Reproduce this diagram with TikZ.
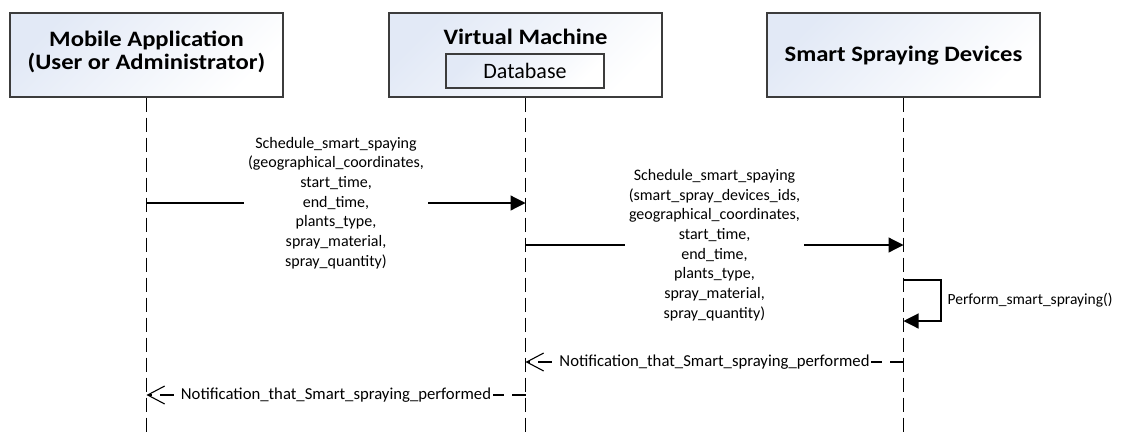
\documentclass[tikz,border=0pt]{standalone}
\usepackage{fontspec}
\setmainfont{Carlito}
\newfontfamily\hdrfont[FakeStretch=1.12]{Carlito}
\usetikzlibrary{arrows.meta}

\definecolor{boxedge}{HTML}{3C3C3C}
\definecolor{boxtint}{HTML}{E2E9F6}

\tikzset{
  actor/.style={draw=boxedge, line width=1.3pt, top color=boxtint, bottom color=white,
    shading angle=45, minimum width=273pt, minimum height=84pt, inner sep=0pt},
  hdr/.style={align=center, inner sep=0pt, font=\hdrfont\bfseries\fontsize{22}{22.5}\selectfont},
  dbbox/.style={draw=boxedge, line width=1.1pt, top color=boxtint, bottom color=white,
    shading angle=45, minimum width=158pt, minimum height=34pt, inner sep=0pt,
    font=\fontsize{22}{24}\selectfont},
  lifeline/.style={draw=black, line width=1.2pt, dash pattern=on 14pt off 6pt},
  msg/.style={draw=black, line width=1.2pt, -{Triangle[length=15pt,width=15pt]}},
  ret/.style={draw=black, line width=1.1pt, dash pattern=on 14pt off 8pt,
    -{Straight Barb[length=17pt,width=18pt,line width=1.1pt]}},
  msglabel/.style={fill=white, align=center, inner xsep=4pt, inner ysep=1pt,
    font=\fontsize{16}{19.7}\selectfont},
  retlabel/.style={fill=white, inner xsep=1.5pt, inner ysep=1pt,
    font=\fontsize{16.7}{19}\selectfont},
  selflabel/.style={right, inner xsep=6pt, font=\fontsize{15.5}{18}\selectfont}
}

\begin{document}
\begin{tikzpicture}[x=1pt,y=-1pt]
  \useasboundingbox (0,0) rectangle (1126,432);
  \fill[white] (0,0) rectangle (1126,432);

  % participants
  \node[actor] (mob) at (146.5,55) {};
  \node[hdr] (mobT) at (146.5,52) {Mobile Application\\(User or Administrator)};

  \node[actor] (vm) at (525.5,55) {};
  \node[hdr] (vmT) at (525.5,37) {Virtual Machine};
  \node[dbbox] (db) at (525,71) {Database};

  \node[actor] (ssd) at (903.5,55) {};
  \node[hdr] (ssdT) at (903.5,56) {Smart Spraying Devices};

  % lifeline ends
  \coordinate (mobEnd) at (146.5,432);
  \coordinate (vmEnd) at (525.5,432);
  \coordinate (ssdEnd) at (903.5,432);

  \draw[lifeline] (mob.south) -- (mobEnd);
  \draw[lifeline] (vm.south) -- (vmEnd);
  \draw[lifeline] (ssd.south) -- (ssdEnd);

  % message anchor points on the lifelines
  \coordinate (m1a) at (146.5,203);
  \coordinate (m1b) at (525.5,203);
  \coordinate (m2a) at (525.5,245);
  \coordinate (m2b) at (903.5,245);
  \coordinate (s1) at (903.5,280);
  \coordinate (s2) at (903.5,321);
  \coordinate (r1a) at (903.5,362);
  \coordinate (r1b) at (525.5,362);
  \coordinate (r2a) at (525.5,395);
  \coordinate (r2b) at (146.5,395);

  % messages
  \draw[msg] (m1a) -- node[msglabel] {Schedule\_smart\_spaying\\(geographical\_coordinates,\\start\_time,\\end\_time,\\plants\_type,\\spray\_material,\\spray\_quantity)} (m1b);

  \draw[msg] (m2a) -- node[msglabel] {Schedule\_smart\_spaying\\(smart\_spray\_devices\_ids,\\geographical\_coordinates,\\start\_time,\\end\_time,\\plants\_type,\\spray\_material,\\spray\_quantity)} (m2b);

  \draw[msg] (s1) -- ++(37.5,0) |- node[pos=0.25, selflabel] {Perform\_smart\_spraying()} (s2);

  % replies
  \draw[ret] (r1a) -- node[retlabel] {Notification\_that\_Smart\_spraying\_performed} (r1b);
  \draw[ret] (r2a) -- node[retlabel] {Notification\_that\_Smart\_spraying\_performed} (r2b);
\end{tikzpicture}
\end{document}
